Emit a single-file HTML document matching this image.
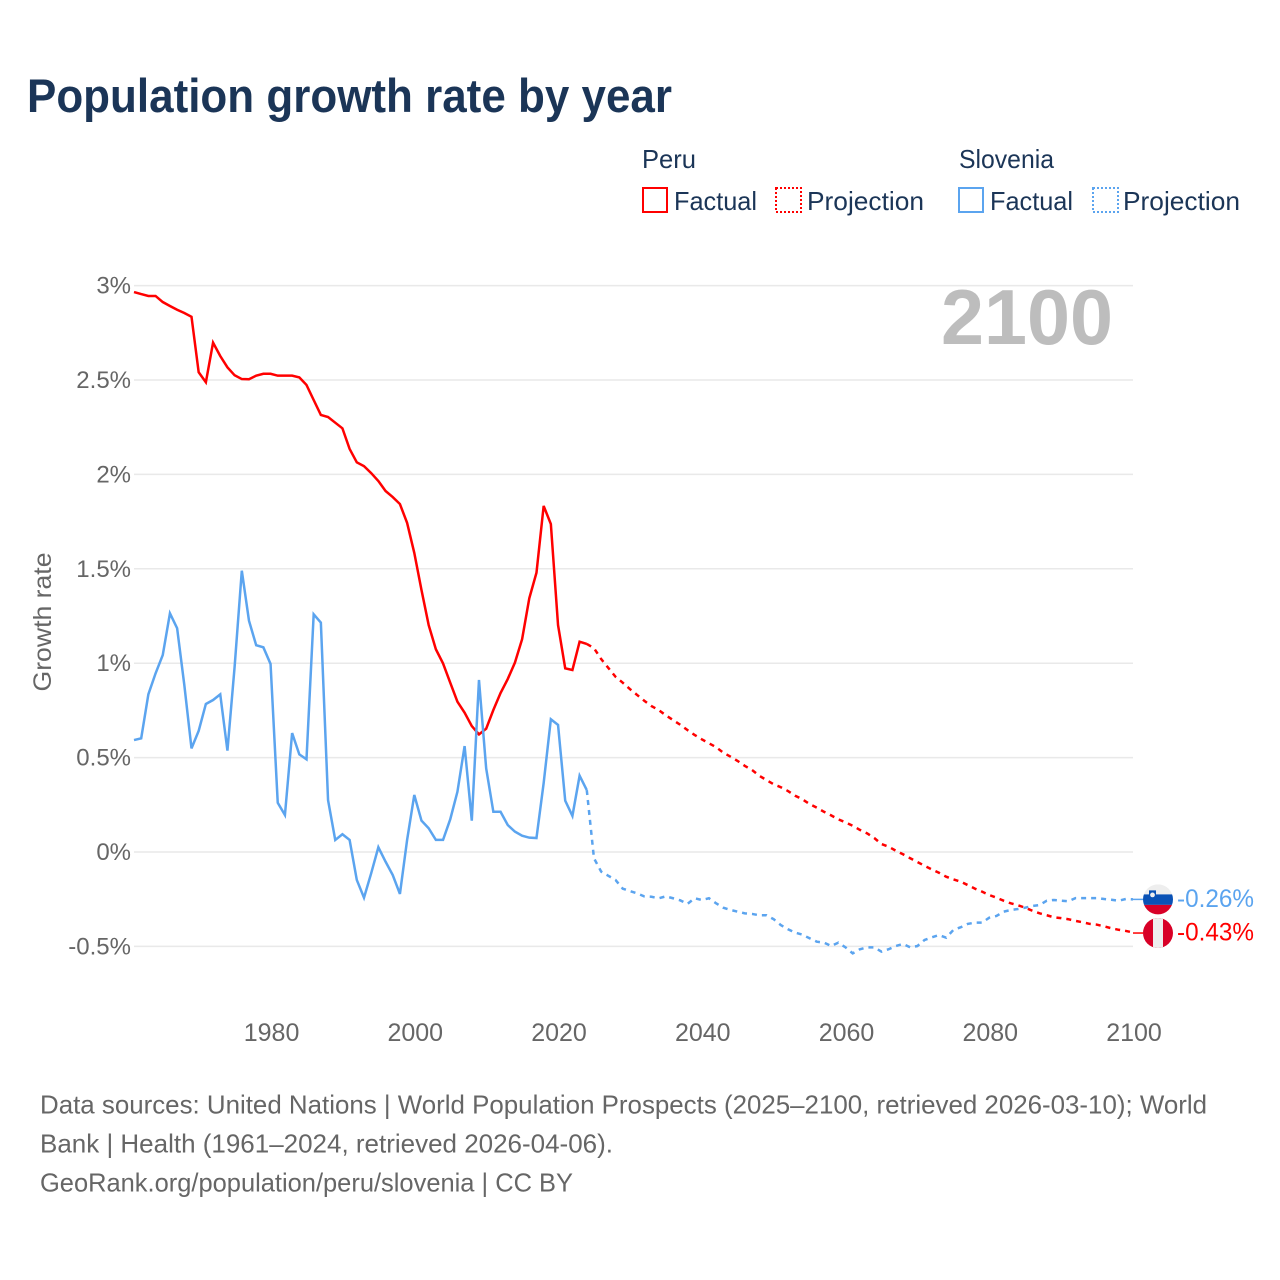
<!DOCTYPE html>
<html lang="en">
<head>
<meta charset="utf-8">
<title>Population growth rate by year</title>
<style>
  html, body { margin: 0; padding: 0; background: #fff; }
  svg { display: block; font-family: "Liberation Sans", sans-serif; }
</style>
</head>
<body>
<svg id="chart" xmlns="http://www.w3.org/2000/svg" width="1280" height="1280" viewBox="0 0 1280 1280">
  <rect x="0" y="0" width="1280" height="1280" fill="#ffffff"/>
  <text x="27" y="112" font-size="47" font-weight="700" fill="#1b3557" textLength="645" lengthAdjust="spacingAndGlyphs">Population growth rate by year</text>

  <g font-size="26" fill="#1b3557">
    <text x="642" y="168" textLength="54" lengthAdjust="spacingAndGlyphs">Peru</text>
    <text x="959" y="168" textLength="95" lengthAdjust="spacingAndGlyphs">Slovenia</text>
    <rect x="643" y="188" width="24" height="24" fill="none" stroke="#ff0000" stroke-width="2"/>
    <text x="674" y="210" textLength="83" lengthAdjust="spacingAndGlyphs">Factual</text>
    <rect x="776" y="188" width="25" height="24" fill="none" stroke="#ff0000" stroke-width="2" stroke-dasharray="2 2"/>
    <text x="807" y="210" textLength="117" lengthAdjust="spacingAndGlyphs">Projection</text>
    <rect x="959" y="188" width="24" height="24" fill="none" stroke="#5ba4ef" stroke-width="2"/>
    <text x="990" y="210" textLength="83" lengthAdjust="spacingAndGlyphs">Factual</text>
    <rect x="1093" y="188" width="25" height="24" fill="none" stroke="#5ba4ef" stroke-width="2" stroke-dasharray="2 2"/>
    <text x="1123" y="210" textLength="117" lengthAdjust="spacingAndGlyphs">Projection</text>
  </g>

  <g id="grid"></g>
  <g id="yticks"></g>
  <g id="xticks"></g>
  <text transform="translate(51 622) rotate(-90)" text-anchor="middle" font-size="25" fill="#666666" textLength="139" lengthAdjust="spacingAndGlyphs">Growth rate</text>
  <text x="1113" y="344" text-anchor="end" font-size="78" font-weight="700" fill="#bdbdbd" textLength="172" lengthAdjust="spacingAndGlyphs">2100</text>

  <g id="series"></g>
  <g id="ends"></g>

  <g font-size="26" fill="#666666">
    <text x="40" y="1113.5" textLength="1167" lengthAdjust="spacingAndGlyphs">Data sources: United Nations | World Population Prospects (2025–2100, retrieved 2026-03-10); World</text>
    <text x="40" y="1152.5" textLength="573" lengthAdjust="spacingAndGlyphs">Bank | Health (1961–2024, retrieved 2026-04-06).</text>
    <text x="40" y="1191.5" textLength="533" lengthAdjust="spacingAndGlyphs">GeoRank.org/population/peru/slovenia | CC BY</text>
  </g>
</svg>
<script>
const firstYear = 1961;
const lastFactualYear = 2024;
const lastYear = 2100;
const yTickValues = [3, 2.5, 2, 1.5, 1, 0.5, 0, -0.5];
const yTickLabels = ['3%', '2.5%', '2%', '1.5%', '1%', '0.5%', '0%', '-0.5%'];
const xTickYears = [1980, 2000, 2020, 2040, 2060, 2080, 2100];
const xTickLabels = ['1980', '2000', '2020', '2040', '2060', '2080', '2100'];
const endLabels = ['-0.43%', '-0.26%'];

const peruFactual = [
  2.966,2.955,2.945,2.945,2.913,2.892,2.872,2.855,2.835,2.541,
  2.488,2.698,2.627,2.567,2.525,2.505,2.504,2.523,2.533,2.533,
  2.523,2.523,2.523,2.514,2.474,2.394,2.315,2.304,2.274,2.244,
  2.135,2.064,2.044,2.007,1.965,1.912,1.880,1.843,1.743,1.584,
  1.388,1.202,1.074,0.999,0.897,0.796,0.738,0.667,0.623,0.653,
  0.752,0.842,0.916,1.003,1.127,1.344,1.479,1.833,1.737,1.202,
  0.973,0.964,1.114,1.102
];
const peruProjection = [
  1.080,1.022,0.975,0.928,0.897,0.863,0.832,0.801,0.773,0.752,
  0.724,0.699,0.674,0.646,0.620,0.597,0.576,0.555,0.526,0.505,
  0.482,0.456,0.434,0.404,0.381,0.359,0.343,0.323,0.298,0.279,
  0.254,0.235,0.213,0.194,0.173,0.157,0.139,0.117,0.099,0.074,
  0.042,0.028,0.007,-0.012,-0.033,-0.053,-0.073,-0.092,-0.110,-0.131,
  -0.145,-0.157,-0.175,-0.194,-0.210,-0.228,-0.242,-0.258,-0.272,-0.282,
  -0.295,-0.311,-0.325,-0.335,-0.346,-0.350,-0.356,-0.365,-0.372,-0.381,
  -0.385,-0.394,-0.404,-0.412,-0.418,-0.426
];
const sloveniaFactual = [
  0.593,0.602,0.835,0.946,1.043,1.264,1.185,0.885,0.549,0.642,
  0.784,0.805,0.835,0.537,0.981,1.490,1.225,1.095,1.084,0.996,
  0.261,0.196,0.630,0.517,0.491,1.259,1.215,0.275,0.064,0.094,
  0.064,-0.148,-0.242,-0.113,0.025,-0.051,-0.122,-0.222,0.064,0.302,
  0.166,0.126,0.064,0.064,0.173,0.319,0.561,0.166,0.911,0.443,
  0.213,0.213,0.143,0.108,0.086,0.076,0.074,0.365,0.703,0.673,
  0.272,0.191,0.404,0.328
];
const sloveniaProjection = [
  -0.033,-0.104,-0.126,-0.148,-0.194,-0.207,-0.219,-0.235,-0.237,-0.245,
  -0.235,-0.245,-0.256,-0.275,-0.245,-0.254,-0.245,-0.272,-0.295,-0.307,
  -0.316,-0.325,-0.328,-0.335,-0.335,-0.356,-0.387,-0.409,-0.427,-0.438,
  -0.457,-0.475,-0.480,-0.498,-0.480,-0.505,-0.537,-0.515,-0.505,-0.505,
  -0.528,-0.515,-0.498,-0.487,-0.505,-0.498,-0.466,-0.452,-0.440,-0.454,
  -0.413,-0.399,-0.381,-0.374,-0.374,-0.348,-0.339,-0.316,-0.307,-0.302,
  -0.295,-0.286,-0.281,-0.258,-0.254,-0.258,-0.261,-0.244,-0.244,-0.244,
  -0.244,-0.249,-0.253,-0.258,-0.249,-0.251
];

const NS = 'http://www.w3.org/2000/svg';
const plotLeft = 134;
const plotRight = 1133;
const RED = '#ff0000';
const BLUE = '#5ba4ef';

function xScale(year) {
  return plotLeft + (year - firstYear) * (plotRight - plotLeft) / (lastYear - firstYear);
}
function yScale(value) {
  return 852 - value * 188.8;
}
function make(tag, attrs, parent) {
  const el = document.createElementNS(NS, tag);
  for (const key in attrs) el.setAttribute(key, attrs[key]);
  parent.appendChild(el);
  return el;
}
function linePath(values, startYear, prefix) {
  let d = prefix;
  values.forEach(function (v, i) {
    d += (d ? 'L' : 'M') + xScale(startYear + i).toFixed(2) + ' ' + yScale(v).toFixed(2);
  });
  return d;
}

const gridGroup = document.getElementById('grid');
const yGroup = document.getElementById('yticks');
yTickValues.forEach(function (v, i) {
  const gl = make('line', {x1: plotLeft, x2: plotRight, y1: yScale(v), y2: yScale(v), stroke: '#e9e9e9', 'stroke-width': 1.5}, gridGroup);
  
  
  const t = make('text', {x: 131, y: yScale(v) + 8, 'text-anchor': 'end', 'font-size': 24, fill: '#666666'}, yGroup);
  
  
  t.textContent = yTickLabels[i];
});

const xGroup = document.getElementById('xticks');
xTickYears.forEach(function (year, i) {
  const t = make('text', {x: xScale(year) + 1, y: 1041, 'text-anchor': 'middle', 'font-size': 25, fill: '#666666'}, xGroup);
  
  
  t.textContent = xTickLabels[i];
});

const seriesGroup = document.getElementById('series');
function drawSeries(name, color, factual, projection) {
  const solid = make('path', {d: linePath(factual, firstYear, ''), fill: 'none', stroke: color, 'stroke-width': 2.5, 'stroke-linejoin': 'miter'}, seriesGroup);
  
  
  const joined = [factual[factual.length - 1]].concat(projection);
  const dashed = make('path', {d: linePath(joined, lastFactualYear, ''), fill: 'none', stroke: color, 'stroke-width': 2.5, 'stroke-dasharray': '5 5'}, seriesGroup);
  
  
}
drawSeries('peru', RED, peruFactual, peruProjection);
drawSeries('slovenia', BLUE, sloveniaFactual, sloveniaProjection);

const endsGroup = document.getElementById('ends');
const peruEnd = yScale(peruProjection[peruProjection.length - 1]) + 0.6;
const sloEnd = yScale(sloveniaProjection[sloveniaProjection.length - 1]);

const peruLeader = make('line', {x1: plotRight, x2: 1143, y1: peruEnd, y2: peruEnd, stroke: RED, 'stroke-width': 1.5}, endsGroup);


const sloLeader = make('line', {x1: plotRight, x2: 1143, y1: sloEnd, y2: sloEnd, stroke: BLUE, 'stroke-width': 1.5}, endsGroup);



const defs = make('defs', {}, endsGroup);
const cpPeru = make('clipPath', {id: 'clip-peru'}, defs);
make('circle', {cx: 1158, cy: peruEnd, r: 15}, cpPeru);
const cpSlo = make('clipPath', {id: 'clip-slo'}, defs);
make('circle', {cx: 1158, cy: sloEnd, r: 15}, cpSlo);

const slovFlag = make('g', {'clip-path': 'url(#clip-slo)'}, endsGroup);


make('rect', {x: 1143, y: sloEnd - 15, width: 30, height: 10, fill: '#eeeeee'}, slovFlag);
make('rect', {x: 1143, y: sloEnd - 5, width: 30, height: 10.5, fill: '#0a52b6'}, slovFlag);
make('rect', {x: 1143, y: sloEnd + 5.5, width: 30, height: 10, fill: '#d80027'}, slovFlag);
make('path', {d: 'M1149 ' + (sloEnd - 9) + 'h7v4l-3.5 3-3.5-3z', fill: '#0a52b6'}, slovFlag);
make('circle', {cx: 1152.5, cy: sloEnd - 4.5, r: 2.4, fill: '#eeeeee'}, slovFlag);

const peruFlag = make('g', {'clip-path': 'url(#clip-peru)'}, endsGroup);


make('rect', {x: 1143, y: peruEnd - 15, width: 30, height: 30, fill: '#d80027'}, peruFlag);
make('rect', {x: 1153, y: peruEnd - 15, width: 10, height: 30, fill: '#eeeeee'}, peruFlag);

const peruValue = make('text', {x: 1177, y: peruEnd + 7.5, 'font-size': 25, fill: RED, textLength: 77, lengthAdjust: 'spacingAndGlyphs'}, endsGroup);


peruValue.textContent = endLabels[0];
const sloValue = make('text', {x: 1177, y: sloEnd + 7.5, 'font-size': 25, fill: BLUE, textLength: 77, lengthAdjust: 'spacingAndGlyphs'}, endsGroup);


sloValue.textContent = endLabels[1];
</script>
</body>
</html>
